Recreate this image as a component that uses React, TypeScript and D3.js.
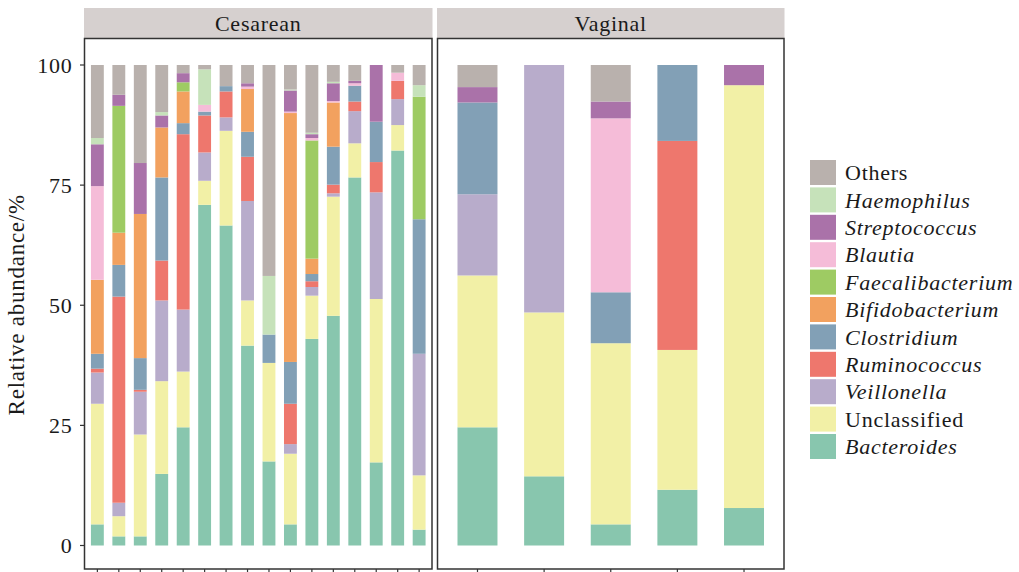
import React from "react";
import * as d3 from "d3";

// ---- data ----
const cesareanSamples = ["C1","C2","C3","C4","C5","C6","C7","C8","C9","C10","C11","C12","C13","C14","C15","C16"];
const vaginalSamples = ["V1","V2","V3","V4","V5"];
const samples = [...cesareanSamples, ...vaginalSamples];

// stacking order bottom -> top
const taxa = ["Bacteroides","Unclassified","Veillonella","Ruminococcus","Clostridium","Bifidobacterium","Faecalibacterium","Blautia","Streptococcus","Haemophilus","Others"];
const italicTaxa = ["Bacteroides","Veillonella","Ruminococcus","Clostridium","Bifidobacterium","Faecalibacterium","Blautia","Streptococcus","Haemophilus"];

const Bacteroides      = [4.4, 1.9, 1.9, 14.9, 24.6, 70.9, 66.6, 41.6, 17.5, 4.4, 43.0, 47.8, 76.6, 17.3, 82.2, 3.3, 24.6, 14.4, 4.4, 11.6, 7.8];
const Unclassified     = [25.1, 4.2, 21.2, 19.3, 11.6, 5.0, 19.7, 9.4, 20.5, 14.7, 9.0, 24.8, 7.1, 34.0, 5.3, 11.3, 31.6, 34.1, 37.7, 29.1, 88.0];
const Veillonella      = [6.5, 2.8, 8.9, 16.8, 12.9, 5.9, 2.8, 20.7, 0, 2.0, 1.8, 0.7, 6.7, 22.2, 5.4, 25.3, 16.9, 51.5, 0, 0, 0];
const Ruminococcus     = [0.8, 42.9, 0.4, 8.3, 36.5, 7.7, 5.4, 9.2, 0, 8.4, 1.2, 1.8, 2.0, 6.3, 3.8, 0, 0, 0, 0, 43.5, 0];
const Clostridium      = [3.1, 6.6, 6.6, 17.3, 2.3, 0.8, 1.1, 5.2, 5.9, 8.7, 1.5, 7.9, 3.3, 8.4, 0, 28.0, 19.1, 0, 10.6, 15.8, 0];
const Bifidobacterium  = [15.4, 6.7, 30.0, 10.4, 6.6, 0, 0, 8.9, 0, 51.8, 3.2, 9.2, 0, 0, 0, 0, 0, 0, 0, 0, 0];
const Faecalibacterium = [0, 26.4, 0, 0, 1.9, 0, 0, 0, 0, 0, 24.6, 0, 0, 0, 0, 25.5, 0, 0, 0, 0, 0];
const Blautia          = [19.5, 0, 0, 0, 0, 1.4, 0, 0.5, 0, 0.3, 0.5, 0.3, 0.5, 0, 1.7, 0, 0, 0, 36.2, 0, 0];
const Streptococcus    = [8.7, 2.3, 10.6, 2.5, 1.9, 0, 0, 0.7, 0, 4.4, 0.8, 3.7, 0.5, 11.8, 0, 0, 3.2, 0, 3.5, 0, 4.2];
const Haemophilus      = [1.3, 0, 0, 0.7, 0, 7.4, 0, 0, 12.2, 0.2, 0.3, 0.3, 0, 0, 0, 2.4, 0, 0, 0, 0, 0];
const Others           = [15.2, 6.2, 20.4, 9.8, 1.7, 0.9, 4.4, 3.8, 43.9, 5.1, 14.1, 3.5, 3.3, 0, 1.6, 4.2, 4.6, 0, 7.6, 0, 0];

const seriesValues: Record<string, number[]> = {
  Bacteroides, Unclassified, Veillonella, Ruminococcus, Clostridium, Bifidobacterium,
  Faecalibacterium, Blautia, Streptococcus, Haemophilus, Others,
};

const colors: Record<string, string> = {
  Bacteroides: "#88c6ae",
  Unclassified: "#f2f0a6",
  Veillonella: "#b8accb",
  Ruminococcus: "#ee776d",
  Clostridium: "#82a0b6",
  Bifidobacterium: "#f2a15f",
  Faecalibacterium: "#9ecb63",
  Blautia: "#f5bcd8",
  Streptococcus: "#aa72a9",
  Haemophilus: "#c6e2ba",
  Others: "#b9b1ad",
};

const yTicks = [0, 25, 50, 75, 100];
const facets = [
  { name: "Cesarean", samples: cesareanSamples },
  { name: "Vaginal", samples: vaginalSamples },
];

const FONT = "'Liberation Serif', 'Times New Roman', serif";
const LS = 0.75;

export default function App() {
  const W = 1019, H = 572;
  const panelTop = 38.5, panelBottom = 569;
  const panels = [
    { x0: 84.5, x1: 432 },
    { x0: 437.5, x1: 784 },
  ];
  const y = d3.scaleLinear().domain([0, 100]).range([545.5, 65]);

  const table = samples.map((s, i) => {
    const row: Record<string, any> = { sample: s };
    taxa.forEach((t) => (row[t] = seriesValues[t][i]));
    return row;
  });
  const stacked = d3.stack<any>().keys(taxa)(table);

  return (
    <svg width={W} height={H} style={{ position: "absolute", left: 0, top: 0, background: "#fff" }}>
      <rect x={0} y={0} width={W} height={H} fill="#fff" />
      {facets.map((f, fi) => {
        const p = panels[fi];
        const x = d3.scalePoint<string>().domain(f.samples).range([p.x0, p.x1]).padding(0.6);
        const bw = x.step() * 0.6;
        return (
          <g key={f.name}>
            {/* strip */}
            <rect x={p.x0 - 0.5} y={8} width={p.x1 - p.x0 + 1} height={panelTop - 8} fill="#d6d0cf" />
            <text x={(p.x0 + p.x1) / 2} y={30.5} textAnchor="middle" fontFamily={FONT} fontSize={22} letterSpacing={LS} fill="#1a1a1a">{f.name}</text>
            {/* bars */}
            {stacked.map((layer) => (
              <g key={layer.key} fill={colors[layer.key]}>
                {layer.map((d, i) => {
                  const s = samples[i];
                  if (!f.samples.includes(s)) return null;
                  const h = y(d[0]) - y(d[1]);
                  if (h <= 0) return null;
                  return <rect key={s} x={(x(s) as number) - bw / 2} y={y(d[1])} width={bw} height={h} />;
                })}
              </g>
            ))}
            {/* panel border */}
            <rect x={p.x0} y={panelTop} width={p.x1 - p.x0} height={panelBottom - panelTop} fill="none" stroke="#333" strokeWidth={1.5} />
            {/* x ticks */}
            {f.samples.map((s) => (
              <line key={s} x1={x(s)} x2={x(s)} y1={panelBottom} y2={panelBottom + 5} stroke="#333" strokeWidth={1.2} />
            ))}
          </g>
        );
      })}
      {/* y axis */}
      {yTicks.map((t) => (
        <g key={t}>
          <line x1={80} x2={84.5} y1={y(t)} y2={y(t)} stroke="#333" strokeWidth={1.2} />
          <text x={72.5} y={y(t)} dy="0.35em" textAnchor="end" fontFamily={FONT} fontSize={22} letterSpacing={LS} fill="#1a1a1a">{t}</text>
        </g>
      ))}
      <text transform={`translate(24,${(panelTop + panelBottom) / 2 + 1}) rotate(-90)`} textAnchor="middle" fontFamily={FONT} fontSize={23} letterSpacing={LS} fill="#1a1a1a">Relative abundance/%</text>
      {/* legend */}
      {[...taxa].reverse().map((t, i) => {
        const ky = 160 + i * 27.4;
        return (
          <g key={t}>
            <rect x={810} y={ky} width={26} height={25} fill={colors[t]} />
            <text x={845} y={ky + 12.5} dy="0.35em" fontFamily={FONT} fontSize={22} letterSpacing={LS} fontStyle={italicTaxa.includes(t) ? "italic" : "normal"} fill="#1a1a1a">{t}</text>
          </g>
        );
      })}
    </svg>
  );
}
